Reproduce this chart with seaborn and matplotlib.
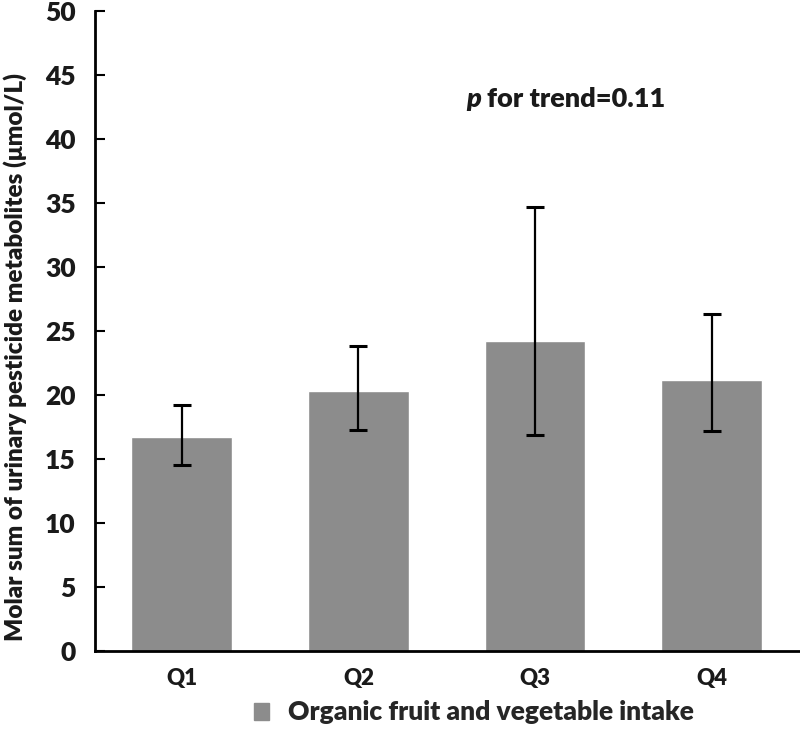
import matplotlib
matplotlib.use("Agg")
import matplotlib.pyplot as plt
import seaborn as sns
import pandas as pd
import numpy as np
from matplotlib.patches import Patch

quartiles = ["Q1", "Q2", "Q3", "Q4"]
means = [16.7, 20.3, 24.2, 21.2]
ci_low = [14.5, 17.3, 16.9, 17.2]
ci_high = [19.2, 23.8, 34.7, 26.3]

df = pd.DataFrame({"Quartile": quartiles, "Mean": means})

sns.set_style("white")
plt.rcParams['font.family'] = ['Lato', 'DejaVu Sans']

fig = plt.figure(figsize=(8, 7.5), dpi=100)
ax = fig.add_axes([0.119, 0.132, 0.881, 0.853])

sns.barplot(x="Quartile", y="Mean", data=df, color="#8c8c8c", saturation=1,
            width=0.57, errorbar=None, ax=ax)

lo = np.array(means) - np.array(ci_low)
hi = np.array(ci_high) - np.array(means)
ax.errorbar(np.arange(len(quartiles)), means, yerr=[lo, hi], fmt="none",
            ecolor="black", elinewidth=1.6, capsize=6.5, capthick=2.2)

ax.set_ylim(0, 50)
ax.set_xlim(-0.49, 3.5)
ax.set_yticks(range(0, 51, 5))
ax.set_xlabel("")
ax.set_ylabel("Molar sum of urinary pesticide metabolites (\u03bcmol/L)",
              fontsize=17.5, fontweight="heavy", color="#1a1a1a")
ax.yaxis.set_label_coords(-0.097, 0.46)

sns.despine(ax=ax)
for s in ["left", "bottom"]:
    ax.spines[s].set_color("black")
    ax.spines[s].set_linewidth(2)
ax.tick_params(axis="y", direction="in", length=7, width=1.5, labelsize=19, pad=14,
               left=True, colors="black")
ax.tick_params(axis="x", length=0, labelsize=16, pad=12, colors="black")
for lab in ax.get_xticklabels() + ax.get_yticklabels():
    lab.set_fontweight("heavy")
    lab.set_color("#1a1a1a")

ptxt = ax.text(1.61, 42.5, "p", fontsize=19.5, fontweight="heavy", style="italic",
               color="#1a1a1a", ha="left", va="baseline")
ax.annotate("for trend=0.11", xy=(1, 0), xycoords=ptxt, xytext=(4, 0),
            textcoords="offset points", fontsize=19.5, fontweight="heavy",
            color="#1a1a1a", ha="left", va="bottom")

fig.legend(handles=[Patch(color="#8c8c8c", label="Organic fruit and vegetable intake")],
           loc="center", bbox_to_anchor=(0.592, 0.05), frameon=False,
           prop={"size": 19, "weight": "heavy"}, handlelength=0.6, handleheight=0.6,
           handletextpad=0.7)

fig.savefig("out.png", dpi=100)
